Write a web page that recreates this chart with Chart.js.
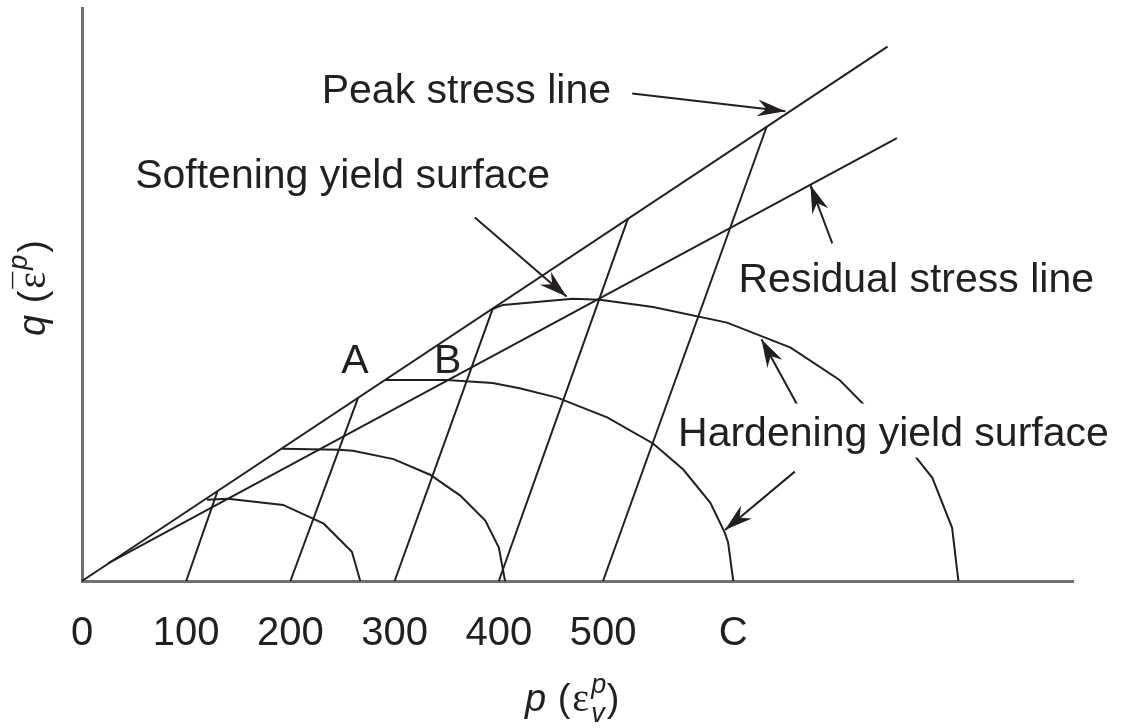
<!DOCTYPE html>
<html>
<head>
<meta charset="utf-8">
<script src="https://cdn.jsdelivr.net/npm/chart.js@4.4.1/dist/chart.umd.min.js"></script>
<style>
  html, body { margin: 0; padding: 0; background: #ffffff; }
  #wrap { width: 1122px; height: 728px; }
</style>
</head>
<body>
<div id="wrap"><canvas id="chart" width="1122" height="728"></canvas></div>
<script>
// p-axis tick positions and their labels (C marks the end of the largest yield surface)
const tickValues = [0, 100, 200, 300, 400, 500, 625];
const tickLabels = ['0', '100', '200', '300', '400', '500', 'C'];

// Stress lines in the p-q plane
const peakStressLine = [[0, 0], [773, 513]];
const residualStressLine = [[25, 17], [782, 425]];

// Loading paths rising from the p axis to the peak stress line
const pathFrom100 = [[100, 0], [130, 86]];
const pathFrom200 = [[200, 0], [265, 176]];
const pathFrom300 = [[300, 0], [394, 261]];
const pathFrom400 = [[400, 0], [524, 348]];
const pathFrom500 = [[500, 0], [657, 436]];

// Yield surfaces (cap curves), smallest to largest
const yieldSurface1 = [[120, 78], [140, 79], [193, 73], [232, 55], [259, 28], [267, 0]];
const yieldSurface2 = [[192, 127], [246, 126], [260, 125], [299, 117], [334, 102], [363, 82], [387, 58], [400, 32], [406, 0]];
const yieldSurface3 = [[291, 193], [350, 193], [394, 190], [420, 185], [456, 176], [504, 157], [548, 132], [577, 107], [603, 75], [617, 46], [620, 37], [625, 0]];
const yieldSurface4 = [[394, 261], [404, 265], [471, 271], [497, 270], [548, 263], [619, 248], [680, 224], [727, 193], [801, 118], [816, 99], [835, 51], [841, 0]];

// Label arrows: [tail, head]
const arrowPeak = [[528, 468], [675, 451]];
const arrowSoftening = [[377, 349], [465, 273]];
const arrowResidual = [[720, 324], [699, 380]];
const arrowHardeningUpper = [[687, 168], [652, 232]];
const arrowHardeningLower = [[684, 105], [617, 49]];

const INK = '#231f20';
const AXIS = '#6f6f6f';
const SANS = '"Liberation Sans", Arial, sans-serif';
const SERIF = '"Liberation Serif", "DejaVu Serif", serif';

const toPts = arr => arr.map(([x, y]) => ({ x, y }));
const lineSet = (data, width) => ({
  data: toPts(data),
  showLine: true,
  borderColor: INK,
  backgroundColor: INK,
  borderWidth: width,
  pointRadius: 0,
  tension: 0,
  clip: false
});

const curves = [
  peakStressLine, residualStressLine,
  pathFrom100, pathFrom200, pathFrom300, pathFrom400, pathFrom500,
  yieldSurface1, yieldSurface2, yieldSurface3, yieldSurface4
];
const arrows = [arrowPeak, arrowSoftening, arrowResidual, arrowHardeningUpper, arrowHardeningLower];

// Text annotations anchored in data coordinates; 'mask' clears the curves behind a label
const annotations = [
  { text: 'Peak stress line', x: 230, y: 459, align: 'left' },
  { text: 'Softening yield surface', x: 51, y: 377, align: 'left' },
  { text: 'Residual stress line', x: 630, y: 277, align: 'left' },
  { text: 'Hardening yield surface', x: 572, y: 130, align: 'left', mask: true },
  { text: 'A', x: 262, y: 200, align: 'center' },
  { text: 'B', x: 351, y: 200, align: 'center' }
];

function arrowHead(ctx, x0, y0, x1, y1) {
  const L = 28, W = 8.5;
  const a = Math.atan2(y1 - y0, x1 - x0);
  ctx.save();
  ctx.translate(x1, y1);
  ctx.rotate(a);
  ctx.beginPath();
  ctx.moveTo(0, 0);
  ctx.lineTo(-L, -W);
  ctx.lineTo(-0.68 * L, 0);
  ctx.lineTo(-L, W);
  ctx.closePath();
  ctx.fill();
  ctx.restore();
}

// Draws text pieces left to right from (0, 0); 'over' centres a piece above the previous one
function drawRun(ctx, pieces) {
  let x = 0, lastX = 0, lastW = 0;
  for (const p of pieces) {
    ctx.font = p.font;
    const w = ctx.measureText(p.text).width;
    if (p.over) {
      ctx.fillText(p.text, lastX + (lastW - w) / 2 + (p.dx || 0), p.dy || 0);
      continue;
    }
    ctx.fillText(p.text, x + (p.dx || 0), p.dy || 0);
    lastX = x; lastW = w;
    if (!p.keep) x += w + (p.gap || 0);
  }
}

const overlay = {
  id: 'overlay',
  afterDatasetsDraw(chart) {
    const ctx = chart.ctx;
    const xs = chart.scales.x, ys = chart.scales.y;
    ctx.save();
    ctx.fillStyle = INK;

    arrows.forEach(([t, h]) => {
      arrowHead(ctx, xs.getPixelForValue(t[0]), ys.getPixelForValue(t[1]),
                     xs.getPixelForValue(h[0]), ys.getPixelForValue(h[1]));
    });

    ctx.font = '41px ' + SANS;
    ctx.textBaseline = 'alphabetic';
    annotations.forEach(a => {
      const px = xs.getPixelForValue(a.x), py = ys.getPixelForValue(a.y);
      ctx.textAlign = a.align;
      if (a.mask) {
        const w = ctx.measureText(a.text).width;
        const left = a.align === 'center' ? px - w / 2 : px;
        ctx.fillStyle = '#ffffff';
        ctx.fillRect(left - 2, py - 42, w + 4, 54);
        ctx.fillStyle = INK;
      }
      ctx.fillText(a.text, px, py);
    });
    ctx.textAlign = 'left';

    // p-axis title: p (ε with superscript p and subscript v)
    ctx.save();
    ctx.translate(525, 711);
    drawRun(ctx, [
      { text: 'p', font: 'italic 38px ' + SANS, gap: 1 },
      { text: ' (', font: '38px ' + SANS, gap: 2 },
      { text: 'ε', font: '40px ' + SERIF, gap: 2 },
      { text: 'p', font: 'italic 27px ' + SANS, dy: -18, keep: true },
      { text: 'v', font: 'italic 27px ' + SANS, dy: 11, gap: 2 },
      { text: ')', font: '38px ' + SANS }
    ]);
    ctx.restore();

    // q-axis title, rotated: q (ε-bar with superscript p)
    ctx.save();
    ctx.translate(45, 336);
    ctx.rotate(-Math.PI / 2);
    drawRun(ctx, [
      { text: 'q', font: 'italic 38px ' + SANS, gap: 1 },
      { text: ' (', font: '38px ' + SANS, gap: 2 },
      { text: 'ε', font: '40px ' + SERIF, gap: 2 },
      { text: '\u00AF', font: '30px ' + SANS, dy: -11, over: true },
      { text: 'p', font: 'italic 27px ' + SANS, dy: -18, gap: 2 },
      { text: ')', font: '38px ' + SANS }
    ]);
    ctx.restore();

    ctx.restore();
  }
};

new Chart(document.getElementById('chart'), {
  type: 'scatter',
  data: {
    datasets: [
      ...curves.map(c => lineSet(c, 2)),
      ...arrows.map(a => lineSet(a, 2))
    ]
  },
  options: {
    responsive: false,
    animation: false,
    devicePixelRatio: 1,
    layout: { padding: { top: 8, right: 49, left: 0, bottom: 0 } },
    plugins: { legend: { display: false }, tooltip: { enabled: false } },
    events: [],
    scales: {
      x: {
        type: 'linear',
        position: 'bottom',
        min: 0,
        max: 951,
        grid: { display: false },
        border: { display: true, color: AXIS, width: 3 },
        ticks: {
          autoSkip: false,
          maxRotation: 0,
          padding: 21,
          color: INK,
          font: { family: SANS, size: 40 },
          callback: v => tickLabels[tickValues.indexOf(v)]
        },
        afterBuildTicks: s => { s.ticks = tickValues.map(v => ({ value: v })); },
        afterFit: s => { s.height = 147; }
      },
      y: {
        type: 'linear',
        min: 0,
        max: 550,
        grid: { display: false },
        border: { display: true, color: AXIS, width: 3 },
        ticks: { display: false },
        afterFit: s => { s.width = 82; }
      }
    }
  },
  plugins: [overlay]
});
</script>
</body>
</html>
